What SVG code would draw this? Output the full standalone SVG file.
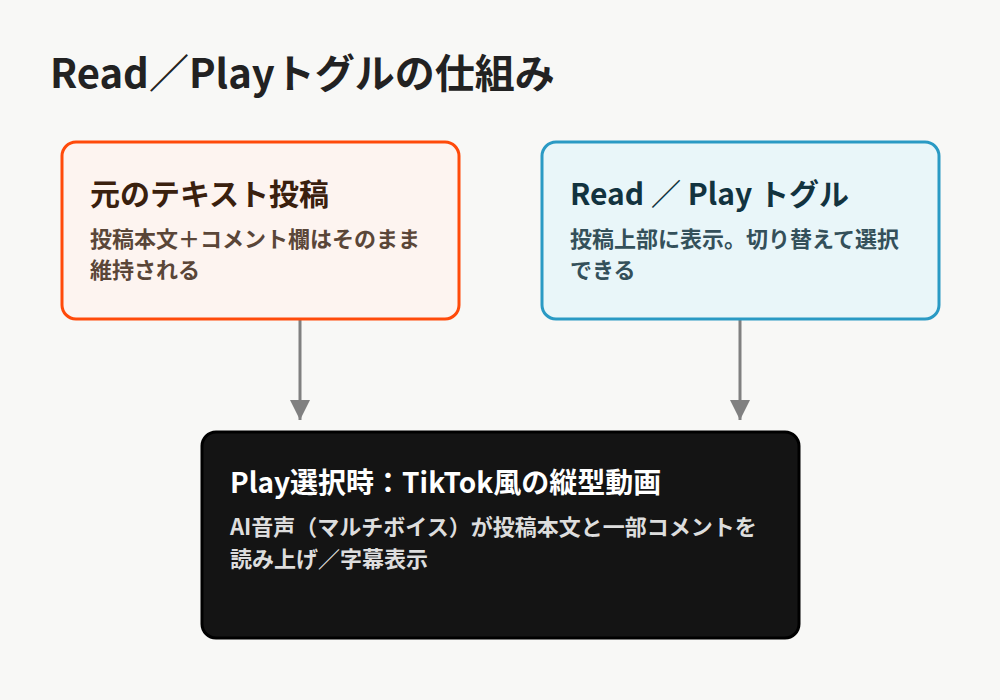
<svg xmlns="http://www.w3.org/2000/svg" width="1000" height="700" viewBox="0 0 1000 700">
<style>
text{font-family:"Noto Sans CJK JP","Noto Sans",sans-serif;font-weight:bold}
.h{font-size:30px}.b{font-size:22px}
</style>
<defs><marker id="ar" viewBox="0 0 10 10" refX="10" refY="5" markerWidth="20" markerHeight="20" markerUnits="userSpaceOnUse" orient="auto"><path d="M0,0L10,5L0,10z" fill="#808080"/></marker></defs>
<rect width="1000" height="700" fill="#f8f8f6"/>
<text x="50" y="88" font-size="40" fill="#222">Read／Playトグルの仕組み</text>
<g id="connectors" stroke="#808080" stroke-width="3">
<line x1="300" y1="320" x2="300" y2="420" marker-end="url(#ar)"/>
<line x1="740" y1="320" x2="740" y2="420" marker-end="url(#ar)"/>
</g>
<g id="n1"><rect x="62" y="142" width="397" height="177" rx="14" fill="#fdf4f0" stroke="#ff4a0a" stroke-width="3"/>
<text x="90" y="205" class="h" fill="#3a200e">元のテキスト投稿</text>
<text x="90" y="247" class="b" fill="#5a4638">投稿本文＋コメント欄はそのまま</text>
<text x="90" y="278" class="b" fill="#5a4638">維持される</text></g>
<g id="n2"><rect x="542" y="142" width="397" height="177" rx="14" fill="#e9f6f9" stroke="#2a9ac4" stroke-width="3"/>
<text x="570" y="205" class="h" fill="#12333f">Read ／ Play トグル</text>
<text x="570" y="247" class="b" fill="#34505a">投稿上部に表示。切り替えて選択</text>
<text x="570" y="278" class="b" fill="#34505a">できる</text></g>
<g id="n3"><rect x="202" y="432" width="597" height="206" rx="14" fill="#141414" stroke="#000" stroke-width="3"/>
<text x="230" y="493" font-size="28" fill="#fff">Play選択時：TikTok風の縦型動画</text>
<text x="230" y="535" class="b" fill="#ddd">AI音声（マルチボイス）が投稿本文と一部コメントを</text>
<text x="230" y="567" class="b" fill="#ddd">読み上げ／字幕表示</text></g>
</svg>
